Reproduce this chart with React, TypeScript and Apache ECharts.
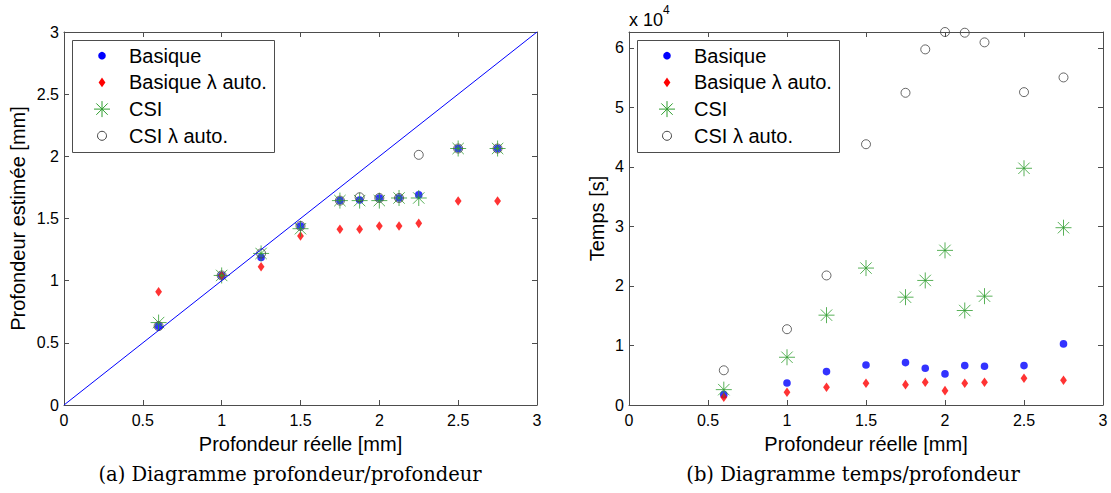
import React, { useEffect, useRef } from "react";
import * as echarts from "echarts";

// ---- data ----
const depth = [0.6, 1.0, 1.25, 1.5, 1.75, 1.875, 2.0, 2.125, 2.25, 2.5, 2.75];
const estBasique = [0.634, 1.042, 1.187, 1.44, 1.644, 1.649, 1.665, 1.665, 1.69, 2.063, 2.063];
const estBasiqueAuto = [0.911, 1.042, 1.112, 1.359, 1.413, 1.413, 1.44, 1.44, 1.461, 1.641, 1.641];
const estCSI = [0.663, 1.042, 1.219, 1.418, 1.644, 1.644, 1.644, 1.665, 1.665, 2.063, 2.063];
const estCSIAuto = [0.634, 1.042, 1.219, 1.44, 1.644, 1.671, 1.665, 1.665, 2.012, 2.063, 2.063];

const timeBasique = [1740, 3700, 5610, 6730, 7120, 6170, 5220, 6620, 6510, 6620, 10260];
const timeBasiqueAuto = [1290, 2130, 2970, 3650, 3420, 3810, 2410, 3650, 3810, 4490, 4150];
const timeCSI = [2580, 8020, 15090, 23000, 18110, 20920, 25970, 15870, 18280, 39760, 29780];
const timeCSIAuto = [5830, 12730, 21760, 43800, 52440, 59730, 62650, 62530, 60910, 52550, 55020];

const identityLine = [[0, 0], [3, 3]];

const seriesNames = ["Basique", "Basique λ auto.", "CSI", "CSI λ auto."];
const depthTicks = [0, 3, 0.5]; // min, max, interval
const timeInterval = 10000;
const captionA = "(a) Diagramme profondeur/profondeur";
const captionB = "(b) Diagramme temps/profondeur";

// ---- styling ----
const SANS = "Liberation Sans, Arial, Helvetica, sans-serif";
const SERIF = "DejaVu Serif, Liberation Serif, serif";
const FRAME = "#4d4d4d";
const BLUE = "#0000ff";
const RED = "#ff0000";
const GREEN = "#2f9e2f";
const RING = "#444444";

const BOX = "M-10,-10M10,10";
const SYM_DOT = "path://" + BOX + "M3.8,0A3.8,3.8 0 1,1 -3.8,0A3.8,3.8 0 1,1 3.8,0Z";
const SYM_DIAMOND = "path://" + BOX + "M0,-4.8L3.4,0L0,4.8L-3.4,0Z";
const SYM_STAR =
  "path://" + BOX + "M0,-8L0,8M-8,0L8,0M-5.7,-5.7L5.7,5.7M-5.7,5.7L5.7,-5.7";
const SYM_RING = "path://" + BOX + "M4.5,0A4.5,4.5 0 1,1 -4.5,0A4.5,4.5 0 1,1 4.5,0Z";

const markerStyles = [
  { symbol: SYM_DOT, itemStyle: { color: BLUE, borderWidth: 0 } },
  { symbol: SYM_DIAMOND, itemStyle: { color: RED, borderWidth: 0 } },
  { symbol: SYM_STAR, itemStyle: { color: "rgba(0,0,0,0)", borderColor: GREEN, borderWidth: 1 } },
  { symbol: SYM_RING, itemStyle: { color: "rgba(0,0,0,0)", borderColor: RING, borderWidth: 1 } },
];

function zip(xs: number[], ys: number[]) {
  return xs.map((x, i) => [x, ys[i]]);
}

function bottomAxis(gridIndex: number) {
  return {
    type: "value",
    gridIndex,
    position: "bottom",
    min: depthTicks[0],
    max: depthTicks[1],
    interval: depthTicks[2],
    name: "Profondeur réelle [mm]",
    nameLocation: "middle",
    nameGap: 29,
    nameTextStyle: { fontFamily: SANS, fontSize: 20, color: "#000" },
    axisLine: { show: true, onZero: false, lineStyle: { color: FRAME, width: 1 } },
    axisTick: { show: true, inside: true, length: 5, lineStyle: { color: FRAME } },
    axisLabel: { fontFamily: SANS, fontSize: 16, color: "#000", margin: 7 },
    splitLine: { show: false },
  };
}
function topAxis(gridIndex: number) {
  return {
    type: "value",
    gridIndex,
    position: "top",
    min: depthTicks[0],
    max: depthTicks[1],
    interval: depthTicks[2],
    axisLine: { show: true, onZero: false, lineStyle: { color: FRAME, width: 1 } },
    axisTick: { show: true, inside: true, length: 5, lineStyle: { color: FRAME } },
    axisLabel: { show: false },
    splitLine: { show: false },
  };
}

const timeMax = Math.max(...timeCSIAuto);

// legend drawn as a boxed group (MATLAB style)
function legendGroup(x0: number, y0: number) {
  const w = 202;
  const h = 112;
  const rows = [15.7, 42.4, 69.1, 95.8];
  const mx = 30;
  const tx = 57;
  const children: any[] = [
    {
      type: "rect",
      shape: { x: 0.5, y: 0.5, width: w, height: h },
      style: { fill: "#ffffff", stroke: FRAME, lineWidth: 1 },
    },
  ];
  // markers
  children.push({ type: "circle", shape: { cx: mx, cy: rows[0], r: 3.8 }, style: { fill: BLUE } });
  children.push({
    type: "polygon",
    shape: {
      points: [
        [mx, rows[1] - 4.8],
        [mx + 3.4, rows[1]],
        [mx, rows[1] + 4.8],
        [mx - 3.4, rows[1]],
      ],
    },
    style: { fill: RED },
  });
  const s = 8;
  const d = 5.7;
  const cy = rows[2];
  [
    [mx, cy - s, mx, cy + s],
    [mx - s, cy, mx + s, cy],
    [mx - d, cy - d, mx + d, cy + d],
    [mx - d, cy + d, mx + d, cy - d],
  ].forEach(([x1, y1, x2, y2]) =>
    children.push({ type: "line", shape: { x1, y1, x2, y2 }, style: { stroke: GREEN, lineWidth: 1 } })
  );
  children.push({
    type: "circle",
    shape: { cx: mx, cy: rows[3], r: 4.5 },
    style: { fill: "none", stroke: RING, lineWidth: 1 },
  });
  seriesNames.forEach((name, i) => {
    children.push({
      type: "text",
      x: tx,
      y: rows[i],
      style: {
        text: name,
        fontFamily: SANS,
        fontSize: 20,
        fill: "#000",
        align: "left",
        verticalAlign: "middle",
      },
    });
  });
  return { type: "group", x: x0, y: y0, z: 100, children };
}

export default function App() {
  const ref = useRef<HTMLDivElement>(null);
  useEffect(() => {
    if (!ref.current) return;
    const chart = echarts.init(ref.current, undefined, { renderer: "svg" });

    const leftSeries = [estBasique, estBasiqueAuto, estCSI, estCSIAuto].map((ys, i) => ({
      type: "scatter",
      name: seriesNames[i],
      xAxisIndex: 0,
      yAxisIndex: 0,
      data: zip(depth, ys),
      symbol: markerStyles[i].symbol,
      symbolSize: 20,
      itemStyle: markerStyles[i].itemStyle,
      z: 3,
    }));
    const rightSeries = [timeBasique, timeBasiqueAuto, timeCSI, timeCSIAuto].map((ys, i) => ({
      type: "scatter",
      name: seriesNames[i],
      xAxisIndex: 2,
      yAxisIndex: 2,
      data: zip(depth, ys),
      symbol: markerStyles[i].symbol,
      symbolSize: 20,
      itemStyle: markerStyles[i].itemStyle,
      z: 3,
    }));

    chart.setOption({
      animation: false,
      backgroundColor: "#ffffff",
      grid: [
        { left: 64, top: 32, width: 473, height: 373, containLabel: false },
        { left: 629, top: 32, width: 474, height: 373, containLabel: false },
      ],
      xAxis: [bottomAxis(0), topAxis(0), bottomAxis(1), topAxis(1)],
      yAxis: [
        {
          type: "value",
          gridIndex: 0,
          position: "left",
          min: depthTicks[0],
          max: depthTicks[1],
          interval: depthTicks[2],
          name: "Profondeur estimée [mm]",
          nameLocation: "middle",
          nameGap: 36,
          nameRotate: 90,
          nameTextStyle: { fontFamily: SANS, fontSize: 20, color: "#000" },
          axisLine: { show: true, onZero: false, lineStyle: { color: FRAME, width: 1 } },
          axisTick: { show: true, inside: true, length: 5, lineStyle: { color: FRAME } },
          axisLabel: { fontFamily: SANS, fontSize: 16, color: "#000", margin: 5 },
          splitLine: { show: false },
        },
        {
          type: "value",
          gridIndex: 0,
          position: "right",
          min: depthTicks[0],
          max: depthTicks[1],
          interval: depthTicks[2],
          axisLine: { show: true, onZero: false, lineStyle: { color: FRAME, width: 1 } },
          axisTick: { show: true, inside: true, length: 5, lineStyle: { color: FRAME } },
          axisLabel: { show: false },
          splitLine: { show: false },
        },
        {
          type: "value",
          gridIndex: 1,
          position: "left",
          min: 0,
          max: timeMax,
          interval: timeInterval,
          name: "Temps [s]",
          nameLocation: "middle",
          nameGap: 22,
          nameRotate: 90,
          nameTextStyle: { fontFamily: SANS, fontSize: 20, color: "#000" },
          axisLine: { show: true, onZero: false, lineStyle: { color: FRAME, width: 1 } },
          axisTick: { show: true, inside: true, length: 5, lineStyle: { color: FRAME } },
          axisLabel: {
            fontFamily: SANS,
            fontSize: 16,
            color: "#000",
            margin: 5,
            showMaxLabel: false,
            formatter: (v: number) => (v % timeInterval === 0 ? String(v / timeInterval) : ""),
          },
          splitLine: { show: false },
        },
        {
          type: "value",
          gridIndex: 1,
          position: "right",
          min: 0,
          max: timeMax,
          interval: timeInterval,
          axisLine: { show: true, onZero: false, lineStyle: { color: FRAME, width: 1 } },
          axisTick: { show: true, inside: true, length: 5, lineStyle: { color: FRAME } },
          axisLabel: { show: false },
          splitLine: { show: false },
        },
      ],
      series: [
        ...leftSeries,
        {
          type: "line",
          name: "y = x",
          xAxisIndex: 0,
          yAxisIndex: 0,
          data: identityLine,
          showSymbol: false,
          lineStyle: { color: BLUE, width: 1 },
          z: 4,
        },
        ...rightSeries,
      ],
      graphic: [
        legendGroup(72, 40),
        legendGroup(637, 40),
        {
          type: "text",
          left: 629,
          top: 11,
          style: { text: "x 10", fontFamily: SANS, fontSize: 18, fill: "#000" },
        },
        {
          type: "text",
          left: 663,
          top: 4,
          style: { text: "4", fontFamily: SANS, fontSize: 12, fill: "#000" },
        },
        {
          type: "text",
          x: 290,
          y: 474,
          style: {
            text: captionA,
            fontFamily: SERIF,
            fontSize: 19.5,
            fill: "#000",
            align: "center",
            verticalAlign: "middle",
          },
        },
        {
          type: "text",
          x: 853,
          y: 474,
          style: {
            text: captionB,
            fontFamily: SERIF,
            fontSize: 19.5,
            fill: "#000",
            align: "center",
            verticalAlign: "middle",
          },
        },
      ],
    });
    return () => chart.dispose();
  }, []);
  return (
    <div
      ref={ref}
      style={{ position: "absolute", left: 0, top: 0, width: 1111, height: 493, background: "#fff" }}
    />
  );
}
